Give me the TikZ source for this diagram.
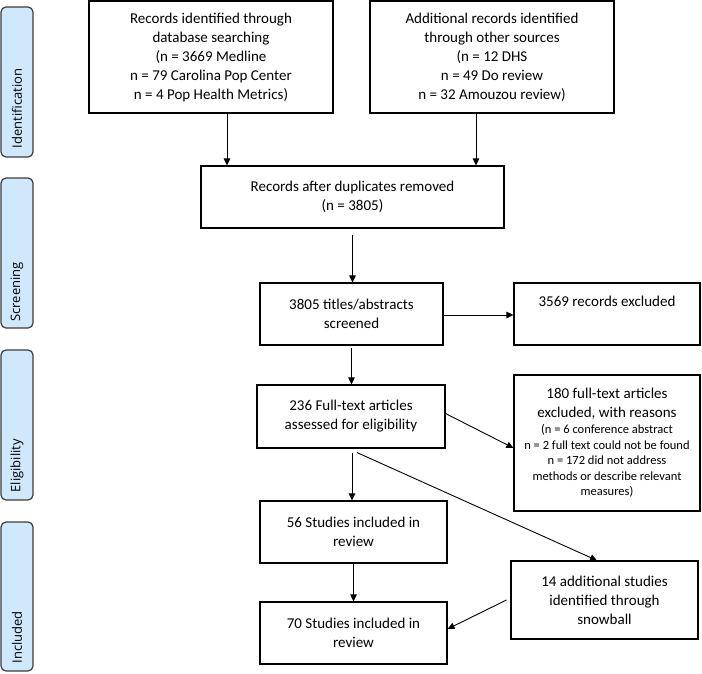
\documentclass[tikz,border=0pt]{standalone}
\usepackage{fontspec}
\setmainfont{Carlito}
\newfontfamily\sidefont{Open Sans}
\usetikzlibrary{arrows.meta}
\definecolor{sidefill}{RGB}{207,232,252}
\definecolor{sidedraw}{RGB}{60,60,60}
\tikzset{
  box/.style={draw=black, line width=1.1pt, fill=white, align=center, inner sep=2pt,
    font=\fontsize{15}{19}\selectfont},
  sidebox/.style={draw=sidedraw, fill=sidefill, line width=1.2pt, rounded corners=5pt,
    minimum width=32pt, minimum height=150pt},
  sidelabel/.style={rotate=90, anchor=west, inner sep=0pt, font=\sidefont\fontsize{13}{15}\selectfont},
  arr/.style={line width=0.9pt, -{Triangle[length=7pt,width=6.5pt]}},
  small/.style={font=\fontsize{12.5}{15.5}\selectfont}
}
\begin{document}
\begin{tikzpicture}[x=1pt,y=-1pt]
\useasboundingbox (0,0) rectangle (702,673);
% side labels
\node[sidebox] (sid) at (17,82) {};
\node[sidelabel] (sidt) at ([yshift=9pt]sid.south) {Identification};
\node[sidebox] (sscr) at (17,253) {};
\node[sidelabel] (sscrt) at ([yshift=7pt]sscr.south) {Screening};
\node[sidebox] (selg) at (17,425) {};
\node[sidelabel] (selgt) at ([yshift=8pt]selg.south) {Eligibility};
\node[sidebox, minimum height=149pt] (sinc) at (17,596.5) {};
\node[sidelabel] (sinct) at ([yshift=8pt]sinc.south) {Included};
% boxes
\node[box, minimum width=244pt, minimum height=112pt] (b1) at (211,57)
  {Records identified through\\database searching\\(n = 3669 Medline\\n = 79 Carolina Pop Center\\n = 4 Pop Health Metrics)};
\node[box, minimum width=244pt, minimum height=112pt] (b2) at (492,57)
  {Additional records identified\\through other sources\\(n = 12 DHS\\n = 49 Do review\\n = 32 Amouzou review)};
\node[box, minimum width=303pt, minimum height=62pt] (b3) at (352.5,197)
  {Records after duplicates removed\\(n = 3805)};
\node[box, minimum width=183pt, minimum height=62pt] (b4) at (351.5,314)
  {3805 titles/abstracts\\screened};
\node[box, minimum width=186pt, minimum height=62pt] (b5) at (607,314)
  {3569 records excluded\\\strut};
\node[box, minimum width=188pt, minimum height=63pt] (b6) at (351,416.5)
  {236 Full-text articles\\assessed for eligibility};
\node[box, minimum width=186pt, minimum height=136pt] (b7) at (607,443)
  {180 full-text articles\\excluded, with reasons\\[-3pt]
   {\fontsize{12.5}{15.5}\selectfont (n = 6 conference abstract}\\[-3.5pt]
   {\fontsize{12.5}{15.5}\selectfont n = 2 full text could not be found}\\[-3.5pt]
   {\fontsize{12.5}{15.5}\selectfont n = 172 did not address}\\[-3.5pt]
   {\fontsize{12.5}{15.5}\selectfont methods or describe relevant}\\[-3.5pt]
   {\fontsize{12.5}{15.5}\selectfont measures)}};
\node[box, minimum width=187pt, minimum height=62pt] (b8) at (353.5,532)
  {56 Studies included in\\review};
\node[box, minimum width=187pt, minimum height=78pt] (b9) at (604.5,600)
  {14 additional studies\\identified through\\snowball};
\node[box, minimum width=187pt, minimum height=62pt] (b10) at (353.5,633)
  {70 Studies included in\\review};
% connectors
\draw[arr] ([xshift=16pt]b1.south) -- ([xshift=16pt]b1.south |- b3.north);
\draw[arr] ([xshift=-16pt]b2.south) -- ([xshift=-16pt]b2.south |- b3.north);
\draw[arr] ([yshift=-6pt]b3.south) -- (b3.south |- b4.north);
\draw[arr] ([yshift=-1pt]b4.east) -- ([yshift=-1pt]b5.west);
\draw[arr] ([yshift=-2pt]b4.south) -- (b4.south |- b6.north);
\draw[arr] ([yshift=3pt]b6.east) -- ([yshift=-5pt]b7.west);
\draw[arr] ([xshift=1pt,yshift=-4pt]b6.south) -- ([xshift=1pt]b6.south |- b8.north);
\draw[arr] ([xshift=6pt,yshift=-4pt]b6.south) -- ([xshift=-7.5pt]b9.north);
\draw[arr] (b8.south) -- (b10.north);
\draw[arr] ([xshift=-4pt]b9.west) -- ([yshift=4pt]b10.east);
\end{tikzpicture}
\end{document}
